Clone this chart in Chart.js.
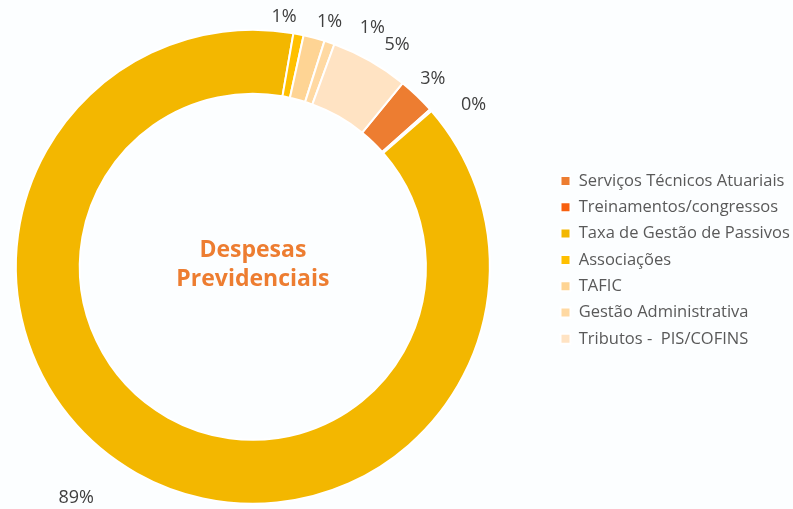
<!DOCTYPE html>
<html>
<head>
<meta charset="utf-8">
<script src="https://cdn.jsdelivr.net/npm/chart.js@4"></script>
<style>
  html, body { margin: 0; padding: 0; background: #fcfeff; overflow: hidden; }
  #page { width: 793px; height: 509px; position: relative; overflow: hidden; }
  #wrap { position: absolute; left: -45px; top: 0; width: 900px; height: 509px; }
</style>
</head>
<body>
<div id="page"><div id="wrap"><canvas id="chart"></canvas></div></div>
<script>
const categories = [
  'Serviços Técnicos Atuariais',
  'Treinamentos/congressos',
  'Taxa de Gestão de Passivos',
  'Associações',
  'TAFIC',
  'Gestão Administrativa',
  'Tributos -  PIS/COFINS'
];
const values = [2.55, 0.15, 89.15, 0.7, 1.45, 0.7, 5.3];
const colors = ['#ED7D31', '#F8600F', '#F3B700', '#FFC000', '#FED494', '#FFD9A2', '#FFE3C3'];
// label placement: [angle shift in degrees, distance from centre]
const labelPlace = [[0, 260], [5, 274], [8, 291], [-4, 252], [2.4, 257], [7.7, 267], [3.3, 265]];
const centerLines = ['Despesas', 'Previdenciais'];

const FONT = "'Open Sans', sans-serif";
const LEGEND_FONT = 16.5;
const LEGEND_PAD = 9.8;
const LEGEND_BOX = 10;
const WRAP_W = 900;
const LEGEND_LEFT = 595.7; // in canvas coordinates (canvas is shifted 45px left)

// measure the legend so the doughnut area ends right where the legend begins
const mctx = document.createElement('canvas').getContext('2d');
mctx.font = LEGEND_FONT + 'px ' + FONT;
const textW = Math.max(...categories.map(c => mctx.measureText(c).width));
const legendW = LEGEND_PAD + LEGEND_BOX + LEGEND_FONT / 2 + textW + 10;
const padRight = WRAP_W - LEGEND_LEFT - legendW;

const pctLabels = {
  id: 'pctLabels',
  afterDatasetsDraw(chart) {
    const ctx = chart.ctx;
    const meta = chart.getDatasetMeta(0);
    const total = values.reduce((a, b) => a + b, 0);
    ctx.save();
    ctx.font = '18px ' + FONT;
    ctx.fillStyle = '#404040';
    ctx.textAlign = 'center';
    ctx.textBaseline = 'middle';
    meta.data.forEach((arc, i) => {
      const a = (arc.startAngle + arc.endAngle) / 2 + labelPlace[i][0] * Math.PI / 180;
      const r = labelPlace[i][1];
      const txt = Math.round(values[i] / total * 100) + '%';
      ctx.fillText(txt, arc.x + Math.cos(a) * r, arc.y + Math.sin(a) * r);
    });
    // centre title
    const c = meta.data[0];
    ctx.font = 'bold 23px ' + FONT;
    ctx.fillStyle = '#ED7D31';
    ctx.textBaseline = 'alphabetic';
    ctx.fillText(centerLines[0], c.x, c.y - 10);
    ctx.fillText(centerLines[1], c.x, c.y + 19.3);
    ctx.restore();
  }
};

new Chart(document.getElementById('chart'), {
  type: 'doughnut',
  data: {
    labels: categories,
    datasets: [{
      data: values,
      backgroundColor: colors,
      borderColor: '#ffffff',
      borderWidth: 2,
      radius: 237,
      clip: false
    }]
  },
  options: {
    responsive: true,
    maintainAspectRatio: false,
    animation: false,
    cutout: '73%',
    rotation: 39.2,
    layout: { padding: { left: 0, right: padRight, top: 162.95, bottom: 138.35 } },
    plugins: {
      tooltip: { enabled: false },
      legend: {
        position: 'right',
        align: 'start',
        labels: {
          boxWidth: LEGEND_BOX,
          boxHeight: LEGEND_BOX,
          padding: LEGEND_PAD,
          color: '#595959',
          font: { family: FONT, size: LEGEND_FONT }
        }
      }
    }
  },
  plugins: [pctLabels]
});
</script>
</body>
</html>
